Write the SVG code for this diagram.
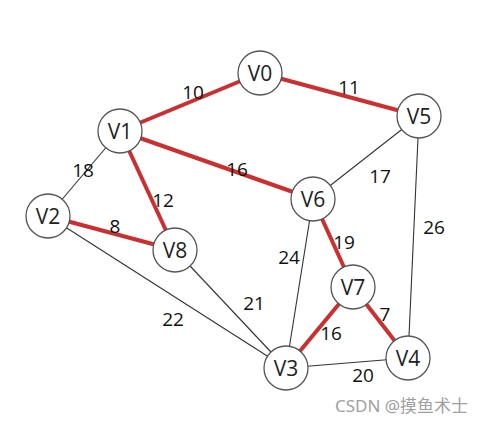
<svg xmlns="http://www.w3.org/2000/svg" width="487" height="424" viewBox="0 0 487 424">
<style>
.e{stroke:#333;stroke-width:1.1;fill:none}
.r{stroke:#cc2f2f;stroke-width:4;fill:none}
.n circle{fill:#fff;stroke:#555;stroke-width:1.3}
.n text{font-family:"Open Sans","Noto Sans",sans-serif;font-size:21px;fill:#222;text-anchor:middle;dominant-baseline:central}
.l{font-family:"Open Sans","Noto Sans",sans-serif;font-size:19px;fill:#111;text-anchor:middle;dominant-baseline:central}
.w{font-family:"Noto Sans","Noto Sans CJK SC",sans-serif;font-size:17px;fill:#a0a0a0}
</style>
<rect width="487" height="424" fill="#fff"/>
<g id="connectors">
<line class="r" x1="120" y1="131" x2="260" y2="73"/>
<line class="r" x1="260" y1="73" x2="419" y2="116"/>
<line class="r" x1="120" y1="131" x2="313" y2="199"/>
<line class="r" x1="120" y1="131" x2="175" y2="250"/>
<line class="e" x1="120" y1="131" x2="48" y2="216"/>
<line class="r" x1="48" y1="216" x2="175" y2="250"/>
<line class="e" x1="48" y1="216" x2="286" y2="368"/>
<line class="e" x1="175" y1="250" x2="286" y2="368"/>
<line class="e" x1="419" y1="116" x2="313" y2="199"/>
<line class="e" x1="419" y1="116" x2="408" y2="358"/>
<line class="r" x1="313" y1="199" x2="353" y2="287"/>
<line class="e" x1="313" y1="199" x2="286" y2="368"/>
<line class="r" x1="353" y1="287" x2="286" y2="368"/>
<line class="r" x1="353" y1="287" x2="408" y2="358"/>
<line class="e" x1="286" y1="368" x2="408" y2="358"/>
</g>
<g id="labels">
<text class="l" x="193" y="92">10</text>
<text class="l" x="349" y="87">11</text>
<text class="l" x="83" y="170">18</text>
<text class="l" x="237" y="169">16</text>
<text class="l" x="163" y="200">12</text>
<text class="l" x="115" y="226">8</text>
<text class="l" x="380" y="176">17</text>
<text class="l" x="434" y="227">26</text>
<text class="l" x="344" y="242">19</text>
<text class="l" x="289" y="257">24</text>
<text class="l" x="254" y="303">21</text>
<text class="l" x="173" y="319">22</text>
<text class="l" x="331" y="333">16</text>
<text class="l" x="385" y="314">7</text>
<text class="l" x="363" y="375">20</text>
</g>
<g id="V0" class="n"><circle cx="260" cy="73" r="22"/><text x="260" y="73">V0</text></g>
<g id="V1" class="n"><circle cx="120" cy="131" r="22"/><text x="120" y="131">V1</text></g>
<g id="V2" class="n"><circle cx="48" cy="216" r="22"/><text x="48" y="216">V2</text></g>
<g id="V3" class="n"><circle cx="286" cy="368" r="22"/><text x="286" y="368">V3</text></g>
<g id="V4" class="n"><circle cx="408" cy="358" r="22"/><text x="408" y="358">V4</text></g>
<g id="V5" class="n"><circle cx="419" cy="116" r="22"/><text x="419" y="116">V5</text></g>
<g id="V6" class="n"><circle cx="313" cy="199" r="22"/><text x="313" y="199">V6</text></g>
<g id="V7" class="n"><circle cx="353" cy="287" r="22"/><text x="353" y="287">V7</text></g>
<g id="V8" class="n"><circle cx="175" cy="250" r="22"/><text x="175" y="250">V8</text></g>
<text class="w" x="335" y="412">CSDN @摸鱼术士</text>
</svg>
